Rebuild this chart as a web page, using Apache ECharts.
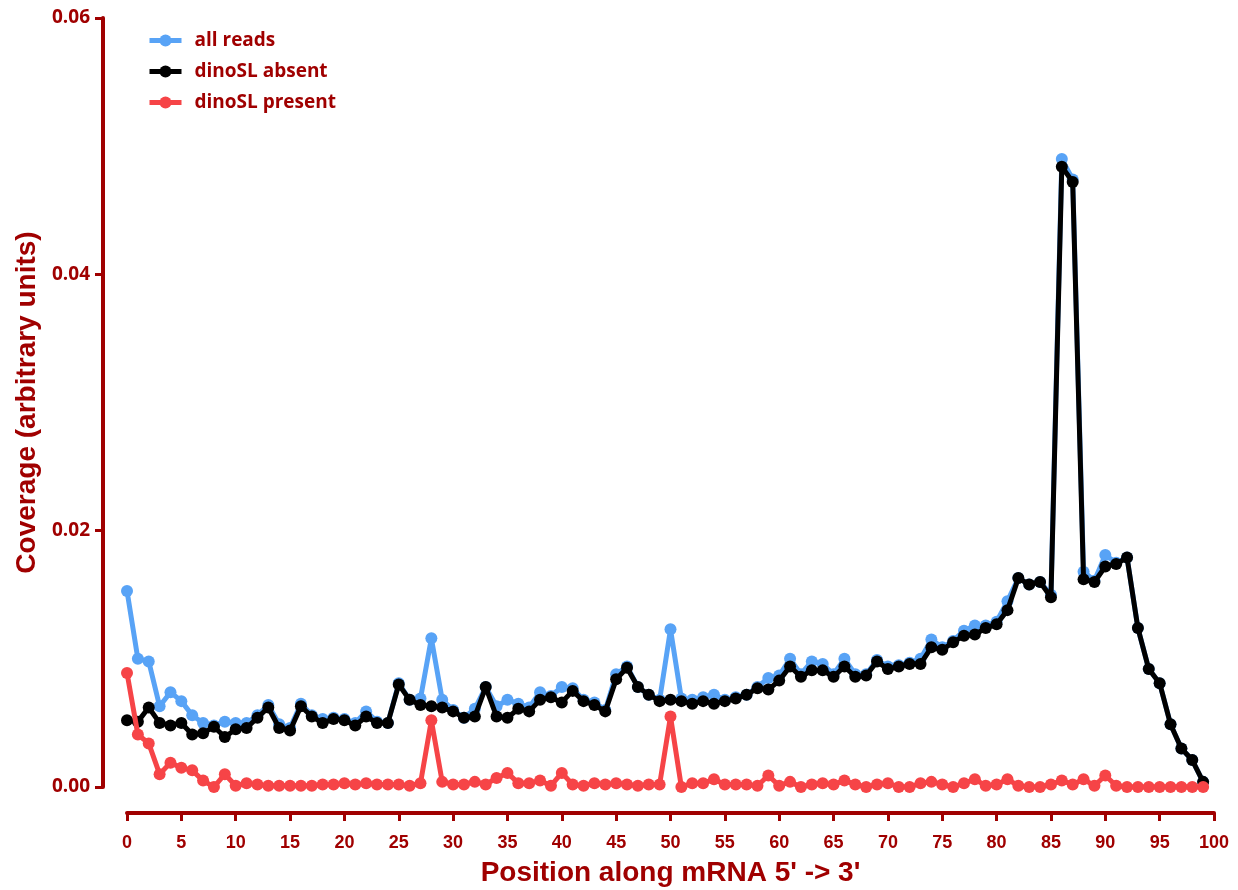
<!DOCTYPE html>
<html>
<head>
<meta charset="utf-8">
<script src="https://cdn.jsdelivr.net/npm/echarts@6/dist/echarts.min.js"></script>
<style>
  html, body { margin: 0; padding: 0; background: #ffffff; }
  #chart { width: 1238px; height: 890px; }
</style>
</head>
<body>
<div id="chart"></div>
<script>
// Relative read coverage in 100 bins along the mRNA (5' -> 3')
const positions = [
  0, 1, 2, 3, 4, 5, 6, 7, 8, 9, 10, 11, 12, 13, 14, 15, 16, 17, 18, 19,
  20, 21, 22, 23, 24, 25, 26, 27, 28, 29, 30, 31, 32, 33, 34, 35, 36, 37, 38, 39,
  40, 41, 42, 43, 44, 45, 46, 47, 48, 49, 50, 51, 52, 53, 54, 55, 56, 57, 58, 59,
  60, 61, 62, 63, 64, 65, 66, 67, 68, 69, 70, 71, 72, 73, 74, 75, 76, 77, 78, 79,
  80, 81, 82, 83, 84, 85, 86, 87, 88, 89, 90, 91, 92, 93, 94, 95, 96, 97, 98, 99
];

const allReads = [
  0.0153, 0.0100, 0.0098, 0.0063, 0.0074, 0.0067, 0.0056, 0.0050, 0.0048, 0.0051,
  0.0050, 0.0050, 0.0056, 0.0064, 0.0049, 0.0046, 0.0065, 0.0056, 0.0053, 0.0054,
  0.0053, 0.0050, 0.0059, 0.0051, 0.0050, 0.0081, 0.0068, 0.0069, 0.0116, 0.0068,
  0.0060, 0.0054, 0.0061, 0.0078, 0.0063, 0.0068, 0.0065, 0.0062, 0.0074, 0.0071,
  0.0078, 0.0077, 0.0068, 0.0066, 0.0060, 0.0088, 0.0094, 0.0078, 0.0072, 0.0068,
  0.0123, 0.0069, 0.0068, 0.0070, 0.0072, 0.0068, 0.0070, 0.0072, 0.0078, 0.0085,
  0.0087, 0.0100, 0.0088, 0.0098, 0.0096, 0.0088, 0.0100, 0.0088, 0.0088, 0.0099,
  0.0094, 0.0095, 0.0097, 0.0100, 0.0115, 0.0109, 0.0114, 0.0122, 0.0126, 0.0126,
  0.0129, 0.0145, 0.0163, 0.0158, 0.0160, 0.0150, 0.0490, 0.0474, 0.0168, 0.0161,
  0.0181, 0.0175, 0.0179, 0.0124, 0.0092, 0.0081, 0.0049, 0.0030, 0.0021, 0.0004
];

const slAbsent = [
  0.0052, 0.0051, 0.0062, 0.0050, 0.0048, 0.0050, 0.0041, 0.0042, 0.0047, 0.0039,
  0.0045, 0.0046, 0.0054, 0.0062, 0.0046, 0.0044, 0.0063, 0.0055, 0.0050, 0.0053,
  0.0052, 0.0048, 0.0055, 0.0050, 0.0050, 0.0080, 0.0068, 0.0064, 0.0063, 0.0062,
  0.0059, 0.0054, 0.0055, 0.0078, 0.0055, 0.0054, 0.0061, 0.0059, 0.0068, 0.0070,
  0.0066, 0.0075, 0.0067, 0.0064, 0.0059, 0.0084, 0.0093, 0.0078, 0.0072, 0.0067,
  0.0068, 0.0067, 0.0065, 0.0067, 0.0065, 0.0067, 0.0069, 0.0072, 0.0077, 0.0076,
  0.0083, 0.0094, 0.0086, 0.0091, 0.0091, 0.0086, 0.0094, 0.0086, 0.0087, 0.0098,
  0.0092, 0.0094, 0.0096, 0.0096, 0.0109, 0.0107, 0.0113, 0.0118, 0.0119, 0.0124,
  0.0127, 0.0138, 0.0163, 0.0158, 0.0160, 0.0148, 0.0484, 0.0472, 0.0162, 0.0160,
  0.0172, 0.0174, 0.0179, 0.0124, 0.0092, 0.0081, 0.0049, 0.0030, 0.0021, 0.0004
];

const slPresent = [
  0.0089, 0.0041, 0.0034, 0.0010, 0.0019, 0.0015, 0.0013, 0.0005, 0.0000, 0.0010,
  0.0001, 0.0003, 0.0002, 0.0001, 0.0001, 0.0001, 0.0001, 0.0001, 0.0002, 0.0002,
  0.0003, 0.0002, 0.0003, 0.0002, 0.0002, 0.0002, 0.0001, 0.0003, 0.0052, 0.0004,
  0.0002, 0.0002, 0.0004, 0.0002, 0.0007, 0.0011, 0.0003, 0.0003, 0.0005, 0.0001,
  0.0011, 0.0002, 0.0001, 0.0003, 0.0002, 0.0003, 0.0002, 0.0001, 0.0002, 0.0002,
  0.0055, 0.0000, 0.0003, 0.0003, 0.0006, 0.0002, 0.0002, 0.0002, 0.0001, 0.0009,
  0.0001, 0.0004, 0.0000, 0.0002, 0.0003, 0.0002, 0.0005, 0.0002, 0.0000, 0.0002,
  0.0003, 0.0000, 0.0000, 0.0003, 0.0004, 0.0002, 0.0000, 0.0003, 0.0006, 0.0001,
  0.0002, 0.0006, 0.0001, 0.0000, 0.0000, 0.0002, 0.0005, 0.0002, 0.0006, 0.0001,
  0.0009, 0.0001, 0.0000, 0.0000, 0.0000, 0.0000, 0.0000, 0.0000, 0.0000, 0.0000
];

const seriesNames = ['all reads', 'dinoSL absent', 'dinoSL present'];
const seriesColors = ['#58a3f6', '#000000', '#f64447'];
const xTicks = { min: 0, max: 100, step: 5 };
const yTicks = { min: 0, max: 0.06, step: 0.02 };

const axisRed = '#a00000';
const titleFont = "'Liberation Sans Narrow', 'Liberation Sans', Arial, sans-serif";
const labelFont = "'Open Sans', 'Liberation Sans', sans-serif";

function pairs(values) {
  return positions.map((p, i) => [p, values[i]]);
}

function lineSeries(name, values, color, z) {
  return {
    name: name,
    type: 'line',
    data: pairs(values),
    z: z,
    clip: false,
    symbol: 'circle',
    symbolSize: 12,
    showAllSymbol: true,
    lineStyle: { color: color, width: 5 },
    itemStyle: { color: color, borderWidth: 0 },
    emphasis: { disabled: true },
    animation: false
  };
}

const chart = echarts.init(document.getElementById('chart'), null, { renderer: 'canvas' });

chart.setOption({
  backgroundColor: '#ffffff',
  animation: false,
  grid: {
    left: 127, right: 24, top: 18, bottom: 103,
    containLabel: false,
    outerBoundsMode: 'none'
  },
  legend: {
    orient: 'vertical',
    left: 142,
    top: 26,
    itemWidth: 32,
    itemHeight: 15,
    itemGap: 12,
    data: seriesNames,
    lineStyle: { width: 5 },
    textStyle: {
      color: axisRed, fontFamily: labelFont, fontWeight: 'bold', fontSize: 19,
      padding: [0, 0, 0, 8]
    }
  },
  xAxis: {
    type: 'value',
    min: xTicks.min,
    max: xTicks.max,
    interval: xTicks.step,
    offset: 26,
    name: "Position along mRNA 5' -> 3'",
    nameLocation: 'middle',
    nameGap: 46,
    nameTextStyle: { color: axisRed, fontFamily: titleFont, fontWeight: 'bold', fontSize: 28 },
    axisLine: { show: true, onZero: false, lineStyle: { color: axisRed, width: 4 } },
    axisTick: { show: true, length: 8, lineStyle: { color: axisRed, width: 3 } },
    axisLabel: { color: axisRed, fontFamily: titleFont, fontWeight: 'bold', fontSize: 18, margin: 21 },
    splitLine: { show: false }
  },
  yAxis: {
    type: 'value',
    min: yTicks.min,
    max: yTicks.max,
    interval: yTicks.step,
    offset: 24,
    name: 'Coverage (arbitrary units)',
    nameLocation: 'middle',
    nameGap: 62,
    nameRotate: 90,
    nameTextStyle: { color: axisRed, fontFamily: titleFont, fontWeight: 'bold', fontSize: 28 },
    axisLine: { show: true, onZero: false, lineStyle: { color: axisRed, width: 4 } },
    axisTick: { show: true, length: 8, lineStyle: { color: axisRed, width: 3 } },
    axisLabel: {
      color: axisRed, fontFamily: labelFont, fontWeight: 'bold', fontSize: 19, margin: 13,
      formatter: v => v.toFixed(2)
    },
    splitLine: { show: false }
  },
  series: [
    lineSeries(seriesNames[0], allReads, seriesColors[0], 2),
    lineSeries(seriesNames[1], slAbsent, seriesColors[1], 3),
    lineSeries(seriesNames[2], slPresent, seriesColors[2], 4)
  ]
});
</script>
</body>
</html>
